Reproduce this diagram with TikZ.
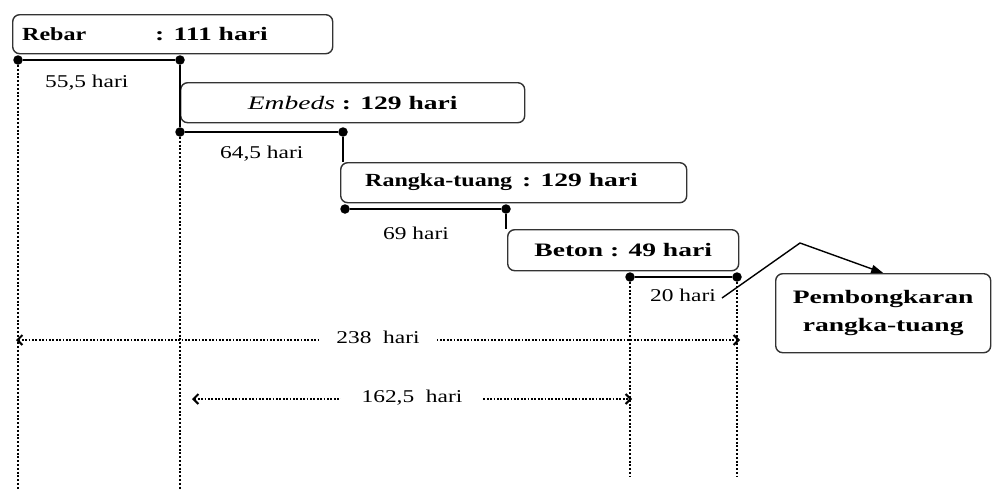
\documentclass[tikz,border=0pt]{standalone}
\usepackage{fontspec}
\setmainfont{Liberation Serif}
\newfontfamily\fwide[FakeStretch=1.45]{Liberation Serif}
\newfontfamily\fmidw[FakeStretch=1.3]{Liberation Serif}
\usetikzlibrary{arrows.meta}

\begin{document}
\begin{tikzpicture}[x=1pt,y=-1pt,
  stage/.style={draw=black!80, line width=1.4pt, rounded corners=7pt,
                anchor=north west, inner sep=0pt},
  lbl/.style={anchor=base west, inner sep=0pt,
              font=\fmidw\fontsize{18}{20}\selectfont},
  bwide/.style={anchor=base west, inner sep=0pt,
                font=\fwide\bfseries\fontsize{19}{21}\selectfont},
  bmid/.style={anchor=base west, inner sep=0pt,
               font=\fmidw\bfseries\fontsize{18.5}{21}\selectfont},
  link/.style={line width=1.9pt},
  guide/.style={line width=2.3pt, dash pattern=on 2pt off 1.8pt},
  barb/.tip={Straight Barb[length=5pt,width=10pt,line width=2pt]},
  span/.style={line width=1.7pt, dash pattern=on 1.8pt off 1.6pt, barb-barb},
  dot/.style={circle, fill=black, inner sep=0pt, minimum size=9.5pt}]

\useasboundingbox (0,0) rectangle (992,490);

% activity boxes
\node[stage, minimum width=320pt, minimum height=39pt] (b1) at (12,14) {};
\node[bmid]  at (22,40)  {Rebar};
\node[bwide] at (155,40) {: 111 hari};

\node[stage, minimum width=344pt, minimum height=40pt,
      font=\fwide\bfseries\fontsize{19}{21}\selectfont] (b2) at (180,82)
      {{\mdseries\itshape Embeds} : 129 hari};

\node[stage, minimum width=346pt, minimum height=40pt] (b3) at (340,162) {};
\node[bmid]  at (365,186) {Rangka-tuang};
\node[bwide] at (522,186) {: 129 hari};

\node[stage, minimum width=231pt, minimum height=41pt,
      font=\fwide\bfseries\fontsize{19}{21}\selectfont] (b4) at (507,229)
      {Beton : 49 hari};

\node[stage, minimum width=215pt, minimum height=79pt, align=center,
      font=\fwide\bfseries\fontsize{19}{28}\selectfont] (b5) at (775,273)
      {Pembongkaran\\rangka-tuang};

% lag markers
\node[dot] (a1) at (18,60) {};
\node[dot] (a2) at (180,60) {};
\node[dot] (e1) at (180,132) {};
\node[dot] (e2) at (343,132) {};
\node[dot] (r1) at (345,209) {};
\node[dot] (r2) at (506,209) {};
\node[dot] (t1) at (630,277) {};
\node[dot] (t2) at (737,277) {};

\draw[link] (a1) -- (a2);
\draw[link] (a2) -- (e1);
\draw[link] (e1) -- (e2);
\draw[link] (e2) -- (e2 |- b3.north);
\draw[link] (r1) -- (r2);
\draw[link] (r2) -- (r2 |- b4.north);
\draw[link] (t1) -- (t2);

\node[lbl] at (45,87)   {55,5 hari};
\node[lbl] at (220,158) {64,5 hari};
\node[lbl] at (383,239) {69 hari};
\node[lbl] (lt) at (650,301) {20 hari};

% vertical guides
\coordinate (g1) at (18,490);
\coordinate (g2) at (180,490);
\coordinate (g3) at (630,477);
\coordinate (g4) at (737,477);
\draw[guide] (a1) -- (g1);
\draw[guide] (e1) -- (g2);
\draw[guide] (t1) -- (g3);
\draw[guide] (t2) -- (g4);

% overall spans
\coordinate (s1l) at (16,340);
\coordinate (s1r) at (740,340);
\coordinate (s2l) at (192,399);
\coordinate (s2r) at (632,399);
\draw[span] (s1l) -- node[fill=white, inner xsep=17pt, inner ysep=1pt,
   font=\fmidw\fontsize{18}{20}\selectfont, yshift=3pt] {238~~hari} (s1r);
\draw[span] (s2l) -- node[fill=white, inner xsep=21pt, inner ysep=1pt,
   font=\fmidw\fontsize{18}{20}\selectfont, yshift=1pt] {162,5~~hari} (s2r);

% callout to the stripping box
\coordinate (c0) at (722,298);
\coordinate (c1) at (800,243);
\draw[line width=1.4pt, -{Triangle[length=12pt,width=8pt]}]
  (c0) -- (c1) -- (b5.north);
\end{tikzpicture}
\end{document}
